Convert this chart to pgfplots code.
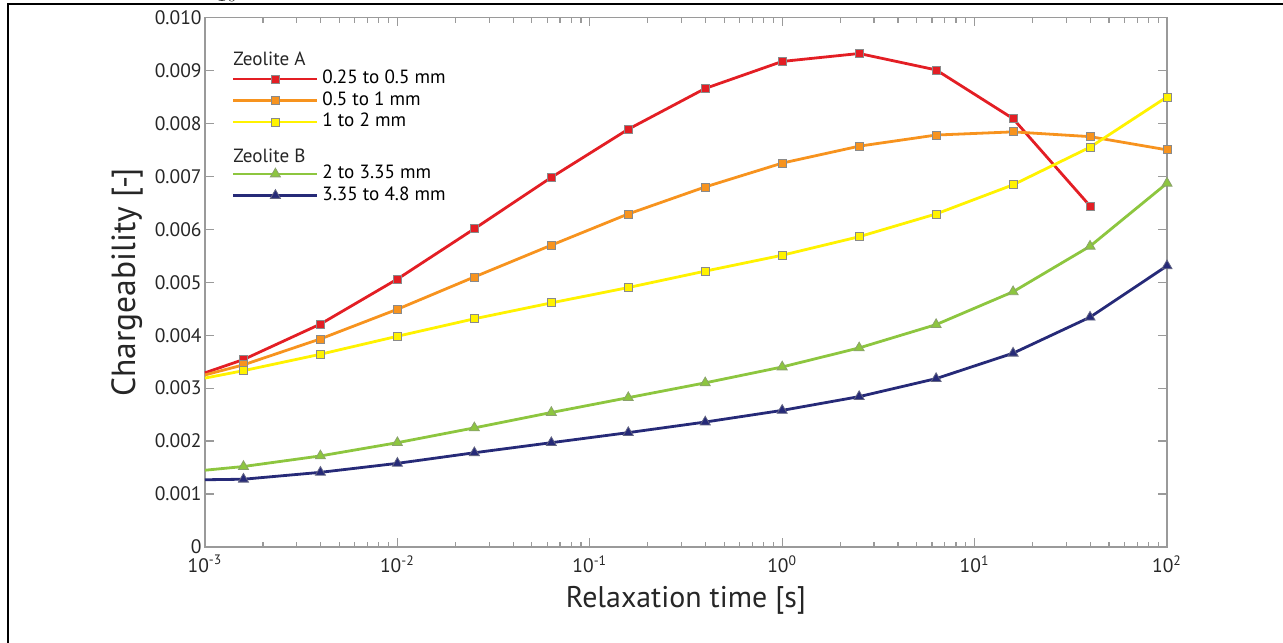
\documentclass[border=0pt]{standalone}
\usepackage{fontspec}
\setmainfont{PT Sans}
\usepackage{pgfplots}
\usepackage{pgfplotstable}
\pgfplotsset{compat=1.18}

\definecolor{cRed}{HTML}{E31E24}
\definecolor{cOrange}{HTML}{F7931E}
\definecolor{cYellow}{HTML}{FFF200}
\definecolor{cGreen}{HTML}{8DC63F}
\definecolor{cNavy}{HTML}{262A78}
\definecolor{axgray}{HTML}{9A9A9A}
\definecolor{mkedge}{HTML}{8A8A8A}

% Chargeability versus relaxation time (x in s, y dimensionless)
\pgfplotstableread{
x y
0.001     0.00329
0.0015849 0.00354
0.0039811 0.00421
0.01      0.00506
0.025119  0.00601
0.063096  0.00698
0.15849   0.00789
0.39811   0.00866
1         0.00917
2.5119    0.00932
6.3096    0.00901
15.849    0.00809
39.811    0.00644
}\redA
\pgfplotstableread{
x y
0.001     0.00325
0.0015849 0.00344
0.0039811 0.00393
0.01      0.00449
0.025119  0.00510
0.063096  0.00570
0.15849   0.00629
0.39811   0.00680
1         0.00725
2.5119    0.00757
6.3096    0.00778
15.849    0.00784
39.811    0.00775
100       0.00750
}\orangeA
\pgfplotstableread{
x y
0.001     0.00319
0.0015849 0.00333
0.0039811 0.00364
0.01      0.00398
0.025119  0.00431
0.063096  0.00461
0.15849   0.00490
0.39811   0.00521
1         0.00551
2.5119    0.00586
6.3096    0.00629
15.849    0.00684
39.811    0.00755
100       0.00850
}\yellowA
\pgfplotstableread{
x y
0.001     0.00145
0.0015849 0.00152
0.0039811 0.00172
0.01      0.00197
0.025119  0.00225
0.063096  0.00254
0.15849   0.00282
0.39811   0.00310
1         0.00340
2.5119    0.00376
6.3096    0.00420
15.849    0.00482
39.811    0.00568
100       0.00687
}\greenB
\pgfplotstableread{
x y
0.001     0.00127
0.0015849 0.00128
0.0039811 0.00141
0.01      0.00158
0.025119  0.00178
0.063096  0.00197
0.15849   0.00216
0.39811   0.00236
1         0.00258
2.5119    0.00284
6.3096    0.00318
15.849    0.00366
39.811    0.00434
100       0.00531
}\navyB

\tikzset{
  sqmark/.style={mark=square*, mark size=2bp,
    mark options={solid, fill=#1, draw=mkedge, line width=0.4bp}},
  trimark/.style={mark=triangle*, mark size=2.9bp,
    mark options={solid, fill=#1, draw=mkedge!60!#1, line width=0.4bp}},
  redS/.style={draw=cRed, line width=1.4bp, sqmark=cRed},
  orangeS/.style={draw=cOrange, line width=1.4bp, sqmark=cOrange},
  yellowS/.style={draw=cYellow, line width=1.4bp, sqmark=cYellow},
  greenS/.style={draw=cGreen, line width=1.4bp, trimark=cGreen},
  navyS/.style={draw=cNavy, line width=1.4bp, trimark=cNavy},
}
\pgfplotsset{
  legend image code/.code={\draw[mark repeat=2,mark phase=2,#1]
      plot coordinates {(0bp,0bp) (21bp,0bp) (42bp,0bp)};},
}

\begin{document}
\begin{tikzpicture}
% page: 641.5bp x 321.5bp, framed on the left and at the top
\path[use as bounding box] (0bp,0bp) rectangle (641.5bp,321.5bp);
\draw[line width=1bp] (3.75bp,0bp) -- (3.75bp,319.5bp) -- (641.5bp,319.5bp);

\begin{axis}[
  width=481bp, height=264.75bp, scale only axis,
  at={(102.5bp,48bp)}, anchor=south west,
  xmode=log, xmin=1e-3, xmax=1e2, ymin=0, ymax=0.01,
  xtick={1e-3,1e-2,1e-1,1,1e1,1e2},
  xticklabels={10\textsuperscript{-3},10\textsuperscript{-2},10\textsuperscript{-1},
    10\textsuperscript{0},10\textsuperscript{1},10\textsuperscript{2}},
  minor xtick={2e-3,3e-3,4e-3,5e-3,6e-3,7e-3,8e-3,9e-3,
    2e-2,3e-2,4e-2,5e-2,6e-2,7e-2,8e-2,9e-2,
    0.2,0.3,0.4,0.5,0.6,0.7,0.8,0.9,
    2,3,4,5,6,7,8,9,20,30,40,50,60,70,80,90},
  ytick={0,0.001,0.002,0.003,0.004,0.005,0.006,0.007,0.008,0.009,0.010},
  yticklabels={0,0.001,0.002,0.003,0.004,0.005,0.006,0.007,0.008,0.009,0.010},
  tick align=inside,
  major tick length=4.5bp, minor tick length=2.6bp,
  axis line style={axgray, line width=0.8bp},
  every tick/.style={axgray, line width=0.6bp},
  tick label style={font=\fontsize{9.8}{11}\selectfont, text=black!85},
  yticklabel style={inner xsep=1.5bp},
  xticklabel style={inner ysep=4bp},
  xlabel={Relaxation time [s]},
  ylabel={Chargeability [-]},
  xlabel style={font=\fontsize{15}{18}\selectfont, text=black!85,
    at={(axis description cs:0.5,-0.1)}, anchor=center},
  ylabel style={font=\fontsize{16.8}{20}\selectfont, text=black!85,
    at={(axis description cs:-0.081,0.5)}, anchor=center},
  clip=false,
  legend cell align=left,
  legend style={draw=none, fill=none, inner sep=0pt, outer sep=0pt,
    row sep=0pt, font=\fontsize{9.6}{12}\selectfont,
    nodes={inner xsep=0pt, inner ysep=1.375bp, text height=6.5bp, text depth=1.5bp},
    /tikz/every odd column/.style={column sep=1.8bp},
    /tikz/row 4/.style={nodes={text height=11bp}},
    at={(axis description cs:0.0281,0.9042)}, anchor=north west},
]
\addplot[redS, forget plot, mark indices={2,3,4,5,6,7,8,9,10,11,12,13}] table {\redA};
\addplot[orangeS, forget plot, mark indices={2,3,4,5,6,7,8,9,10,11,12,13,14}] table {\orangeA};
\addplot[yellowS, forget plot, mark indices={2,3,4,5,6,7,8,9,10,11,12,13,14}] table {\yellowA};
\addplot[greenS, forget plot, mark indices={2,3,4,5,6,7,8,9,10,11,12,13,14}] table {\greenB};
\addplot[navyS, forget plot, mark indices={2,3,4,5,6,7,8,9,10,11,12,13,14}] table {\navyB};
\addlegendimage{redS}
\addlegendentry{0.25 to 0.5 mm}
\addlegendimage{orangeS}
\addlegendentry{0.5 to 1 mm}
\addlegendimage{yellowS}
\addlegendentry{1 to 2 mm}
\addlegendimage{empty legend}
\addlegendentry{}
\addlegendimage{greenS}
\addlegendentry{2 to 3.35 mm}
\addlegendimage{navyS}
\addlegendentry{3.35 to 4.8 mm}
\node[anchor=west, inner sep=0pt, font=\fontsize{9.6}{12}\selectfont, text=black!85]
  at (axis description cs:0.0291,0.9211) {Zeolite A};
\node[anchor=west, inner sep=0pt, font=\fontsize{9.6}{12}\selectfont, text=black!85]
  at (axis description cs:0.0291,0.7390) {Zeolite B};
\end{axis}
\end{tikzpicture}
\end{document}
